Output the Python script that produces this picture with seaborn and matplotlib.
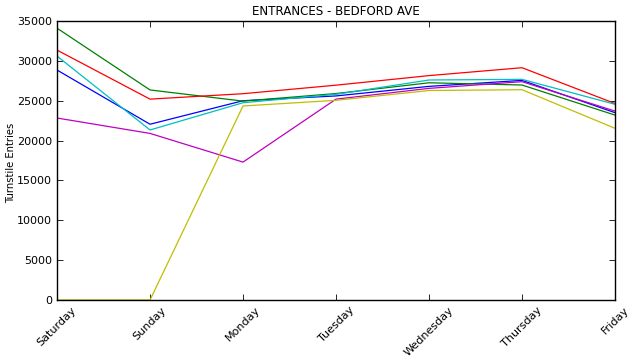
import matplotlib
matplotlib.use("Agg")
import matplotlib.pyplot as plt
import seaborn as sns
import pandas as pd

days = ["Saturday", "Sunday", "Monday", "Tuesday", "Wednesday", "Thursday", "Friday"]
week_1 = [28850, 22050, 25000, 25600, 26800, 27550, 23500]
week_2 = [34100, 26350, 24950, 25900, 27250, 26970, 23200]
week_3 = [31350, 25200, 25880, 26950, 28150, 29140, 24650]
week_4 = [30600, 21330, 24750, 25800, 27600, 27680, 24550]
week_5 = [22830, 20900, 17300, 25200, 26550, 27390, 23700]
week_6 = [0, 0, 24340, 25050, 26280, 26380, 21540]
series = {"w1": week_1, "w2": week_2, "w3": week_3, "w4": week_4, "w5": week_5, "w6": week_6}
colors = ["#0000ff", "#008000", "#ff0000", "#00bfbf", "#bf00bf", "#bfbf00"]

rows = []
for name, vals in series.items():
    for i, v in enumerate(vals):
        rows.append({"week": name, "day": i, "entries": v})
df = pd.DataFrame(rows)

sns.set_style("white")
plt.rcParams["font.family"] = ["DejaVu Sans"]
plt.rcParams["text.color"] = "black"
plt.rcParams["axes.labelcolor"] = "black"
plt.rcParams["xtick.color"] = "black"
plt.rcParams["ytick.color"] = "black"
fig = plt.figure(figsize=(6.35, 3.59), dpi=100)
ax = fig.add_axes([0.0898, 0.1643, 0.8787, 0.7772])
sns.lineplot(data=df, x="day", y="entries", hue="week", palette=colors,
             sort=False, legend=False, linewidth=0.9, ax=ax)
ax.set_xlim(0, 6)
ax.set_ylim(0, 35000)
ax.set_xticks(range(7))
ax.set_xticklabels(days, rotation=45, ha="center", fontsize=8)
ax.set_yticks(range(0, 35001, 5000))
ax.set_yticklabels([str(v) for v in range(0, 35001, 5000)], fontsize=8)
ax.tick_params(direction="in", length=4, width=0.6, top=True, right=True, bottom=True, left=True, color="black")
for s in ax.spines.values():
    s.set_color("black")
    s.set_linewidth(1.0)
ax.set_xlabel("")
ax.set_ylabel("Turnstile Entries", fontsize=7.2, color="black")
ax.yaxis.set_label_coords(-0.073, 0.49)
ax.set_title("ENTRANCES - BEDFORD AVE", fontsize=8.6, pad=4, color="black")
fig.savefig("out.png", dpi=100)
